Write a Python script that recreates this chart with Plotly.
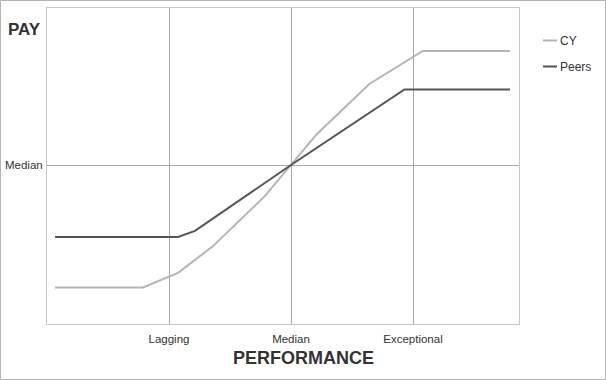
import plotly.graph_objects as go

# Data
cy_x = [0.066, 0.787, 1.074, 1.361, 1.787, 2.0, 2.211, 2.642, 3.080, 3.795]
cy_y = [11.5, 11.5, 16.1, 24.5, 40.3, 50.0, 59.7, 75.5, 85.9, 85.9]
peers_x = [0.066, 1.074, 1.213, 2.0, 2.93, 3.795]
peers_y = [27.4, 27.4, 29.3, 50.0, 73.8, 73.8]
x_tickvals = [1, 2, 3]
x_ticktext = ["Lagging", "Median", "Exceptional"]
y_tickvals = [50]
y_ticktext = ["Median"]

CY_COLOR = "#b5b5b5"
PEERS_COLOR = "#555555"
FONT = "Liberation Sans, Arial, sans-serif"

W, H = 606, 380
L, R, T, B = 47, 87, 8, 56
pw = W - L - R
ph = H - T - B


def px_x(px):
    return (px - L) / pw


def px_y(py):
    return (H - B - py) / ph


fig = go.Figure()
fig.add_trace(go.Scatter(x=cy_x, y=cy_y, mode="lines", name="CY",
                         line=dict(color=CY_COLOR, width=2), showlegend=False))
fig.add_trace(go.Scatter(x=peers_x, y=peers_y, mode="lines", name="Peers",
                         line=dict(color=PEERS_COLOR, width=2), showlegend=False))

fig.update_layout(
    width=W, height=H,
    margin=dict(l=L, r=R, t=T, b=B),
    paper_bgcolor="white", plot_bgcolor="white",
    font=dict(family=FONT, size=11.5, color="#333333"),
    xaxis=dict(range=[0, pw / 122], tickvals=x_tickvals, ticktext=x_ticktext,
               showgrid=True, gridcolor="#a9a9a9", gridwidth=1,
               showline=True, linecolor="#c8c8c8", linewidth=1, mirror=True,
               zeroline=False, ticks="", fixedrange=True, automargin=False,
               ticklabelstandoff=4, tickfont=dict(size=11.5)),
    yaxis=dict(range=[0, 99.4], tickvals=y_tickvals, ticktext=y_ticktext,
               showgrid=True, gridcolor="#a9a9a9", gridwidth=1,
               showline=True, linecolor="#c8c8c8", linewidth=1, mirror=True,
               zeroline=False, ticks="", fixedrange=True, automargin=False,
               ticklabelstandoff=1, tickfont=dict(size=11.5)),
)

# Titles
fig.add_annotation(text="<b>PAY</b>", xref="paper", yref="paper",
                   x=px_x(6), y=px_y(29), xanchor="left", yanchor="middle",
                   showarrow=False, font=dict(size=17, color="#333333", family=FONT))
fig.add_annotation(text="<b>PERFORMANCE</b>", xref="paper", yref="paper",
                   x=px_x(303), y=px_y(358), xanchor="center", yanchor="middle",
                   showarrow=False, font=dict(size=18, color="#333333", family=FONT))

# Legend (manual)
legend_items = [("CY", CY_COLOR, 40.5), ("Peers", PEERS_COLOR, 66.5)]
for name, color, ly in legend_items:
    fig.add_shape(type="line", xref="paper", yref="paper",
                  x0=px_x(543), x1=px_x(557), y0=px_y(ly), y1=px_y(ly),
                  line=dict(color=color, width=2))
    fig.add_annotation(text=name, xref="paper", yref="paper",
                       x=px_x(557.5), y=px_y(ly), xanchor="left", yanchor="middle",
                       showarrow=False, font=dict(size=12, color="#333333", family=FONT))

# Outer border
fig.add_shape(type="rect", xref="paper", yref="paper",
              x0=px_x(0.5), x1=px_x(605.5), y0=px_y(379.5), y1=px_y(0.5),
              line=dict(color="#b4b4b4", width=1), layer="below")

fig.write_html("out.html")
